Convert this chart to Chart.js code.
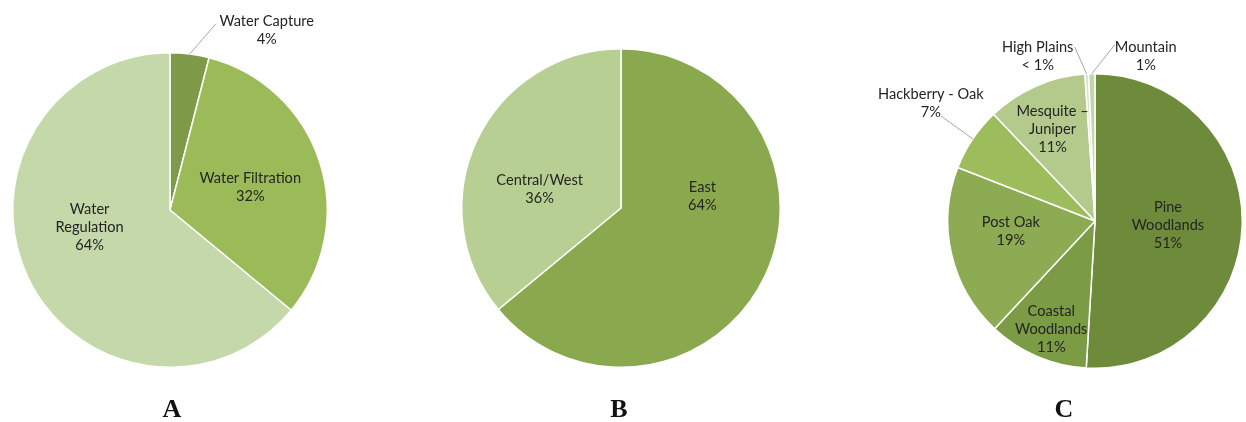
<!DOCTYPE html>
<html>
<head>
<meta charset="utf-8">
<script src="https://cdn.jsdelivr.net/npm/chart.js@4/dist/chart.umd.min.js"></script>
<style>
  html, body { margin: 0; padding: 0; background: #fff; }
  #wrap { position: relative; width: 1246px; height: 422px; overflow: hidden; }
  .panel { position: absolute; top: 0; height: 422px; }
  .letter { position: absolute; top: 394px; font: bold 26px "Liberation Serif", "Times New Roman", serif; color: #111; transform: translateX(-50%); }
</style>
</head>
<body>
<div id="wrap">
  <div class="panel" style="left:0;width:415px"><canvas id="pieA"></canvas></div>
  <div class="panel" style="left:415px;width:415px"><canvas id="pieB"></canvas></div>
  <div class="panel" style="left:830px;width:416px"><canvas id="pieC"></canvas></div>
  <div class="letter" style="left:172px">A</div>
  <div class="letter" style="left:619px">B</div>
  <div class="letter" style="left:1064px">C</div>
</div>
<script>
// panel A - water services
const servicesA = ['Water Capture', 'Water Filtration', 'Water\nRegulation'];
const valuesA = [4, 32, 64];
const pctA = ['4%', '32%', '64%'];

// panel B - region
const regionsB = ['East', 'Central/West'];
const valuesB = [64, 36];
const pctB = ['64%', '36%'];

// panel C - ecoregions
const ecoC = ['Pine\nWoodlands', 'Coastal\nWoodlands', 'Post Oak', 'Hackberry - Oak', 'Mesquite \u2013\nJuniper', 'High Plains', 'Mountain'];
const valuesC = [51, 11, 19, 7, 11, 0.4, 0.7];
const pctC = ['51%', '11%', '19%', '7%', '11%', '< 1%', '1%'];

// draws the slice labels (inside, or outside with a leader line)
const sliceLabels = {
  id: 'sliceLabels',
  afterDatasetsDraw(chart, args, opts) {
    const ctx = chart.ctx;
    const meta = chart.getDatasetMeta(0);
    const cats = chart.data.labels;
    ctx.save();
    ctx.font = '14.6px Lato';
    ctx.fillStyle = '#242424';
    ctx.textAlign = 'center';
    ctx.textBaseline = 'middle';
    meta.data.forEach((arc, i) => {
      const p = arc.getProps(['x', 'y', 'startAngle', 'endAngle', 'outerRadius'], true);
      const mid = (p.startAngle + p.endAngle) / 2;
      const place = opts.place[i] || {};
      const lines = cats[i].split('\n').concat(opts.pct[i]);
      let cx, cy;
      if (place.out) {
        const ex = p.x + Math.cos(mid) * p.outerRadius;
        const ey = p.y + Math.sin(mid) * p.outerRadius;
        cx = ex + place.out[0];
        cy = ey + place.out[1];
        ctx.strokeStyle = '#a6a6a6';
        ctx.lineWidth = 1;
        ctx.beginPath();
        ctx.moveTo(ex, ey);
        ctx.lineTo(cx + place.lead[0], cy + place.lead[1]);
        ctx.stroke();
      } else {
        const d = p.outerRadius * 0.53;
        const n = place.nudge || [0, 0];
        cx = p.x + Math.cos(mid) * d + n[0];
        cy = p.y + Math.sin(mid) * d + n[1];
      }
      const lh = 18;
      const top = cy - (lines.length - 1) * lh / 2;
      lines.forEach((t, k) => ctx.fillText(t, cx, top + k * lh));
    });
    ctx.restore();
  }
};

function makePie(id, cats, vals, pct, colors, padding, place) {
  return new Chart(document.getElementById(id), {
    type: 'pie',
    data: {
      labels: cats,
      datasets: [{
        data: vals,
        backgroundColor: colors,
        borderColor: '#ffffff',
        borderWidth: 1.5
      }]
    },
    options: {
      responsive: true,
      maintainAspectRatio: false,
      animation: false,
      layout: { padding: padding },
      plugins: {
        legend: { display: false },
        tooltip: { enabled: false },
        sliceLabels: { pct: pct, place: place }
      }
    },
    plugins: [sliceLabels]
  });
}

makePie('pieA', servicesA, valuesA, pctA,
  ['#7c9a48', '#9bbb59', '#c5d8aa'],
  { left: 12, right: 87, top: 52, bottom: 54 },
  [ { out: [77, -24], lead: [-51, -6] }, { nudge: [1, 3] }, { nudge: [-5, -18] } ]);

makePie('pieB', regionsB, valuesB, pctB,
  ['#8aa84e', '#b8cf94'],
  { left: 46, right: 49, top: 48, bottom: 54 },
  [ { nudge: [5, -48] }, { nudge: [-5, 17] } ]);

makePie('pieC', ecoC, valuesC, pctC,
  ['#6d8b3b', '#7b9b45', '#8cab53', '#9dbc5b', '#b3ca8c', '#dae5ca', '#c4d6a8'],
  { left: 117, right: 3, top: 73, bottom: 53 },
  [ { nudge: [-5, 2] }, { nudge: [-13, 37] }, { nudge: [-8, -7] },
    { out: [-42, -36], lead: [10, 13] }, { nudge: [-11, -20] },
    { out: [-49, -18], lead: [37, -9] }, { out: [54, -18], lead: [-31, -11] } ]);
</script>
</body>
</html>
